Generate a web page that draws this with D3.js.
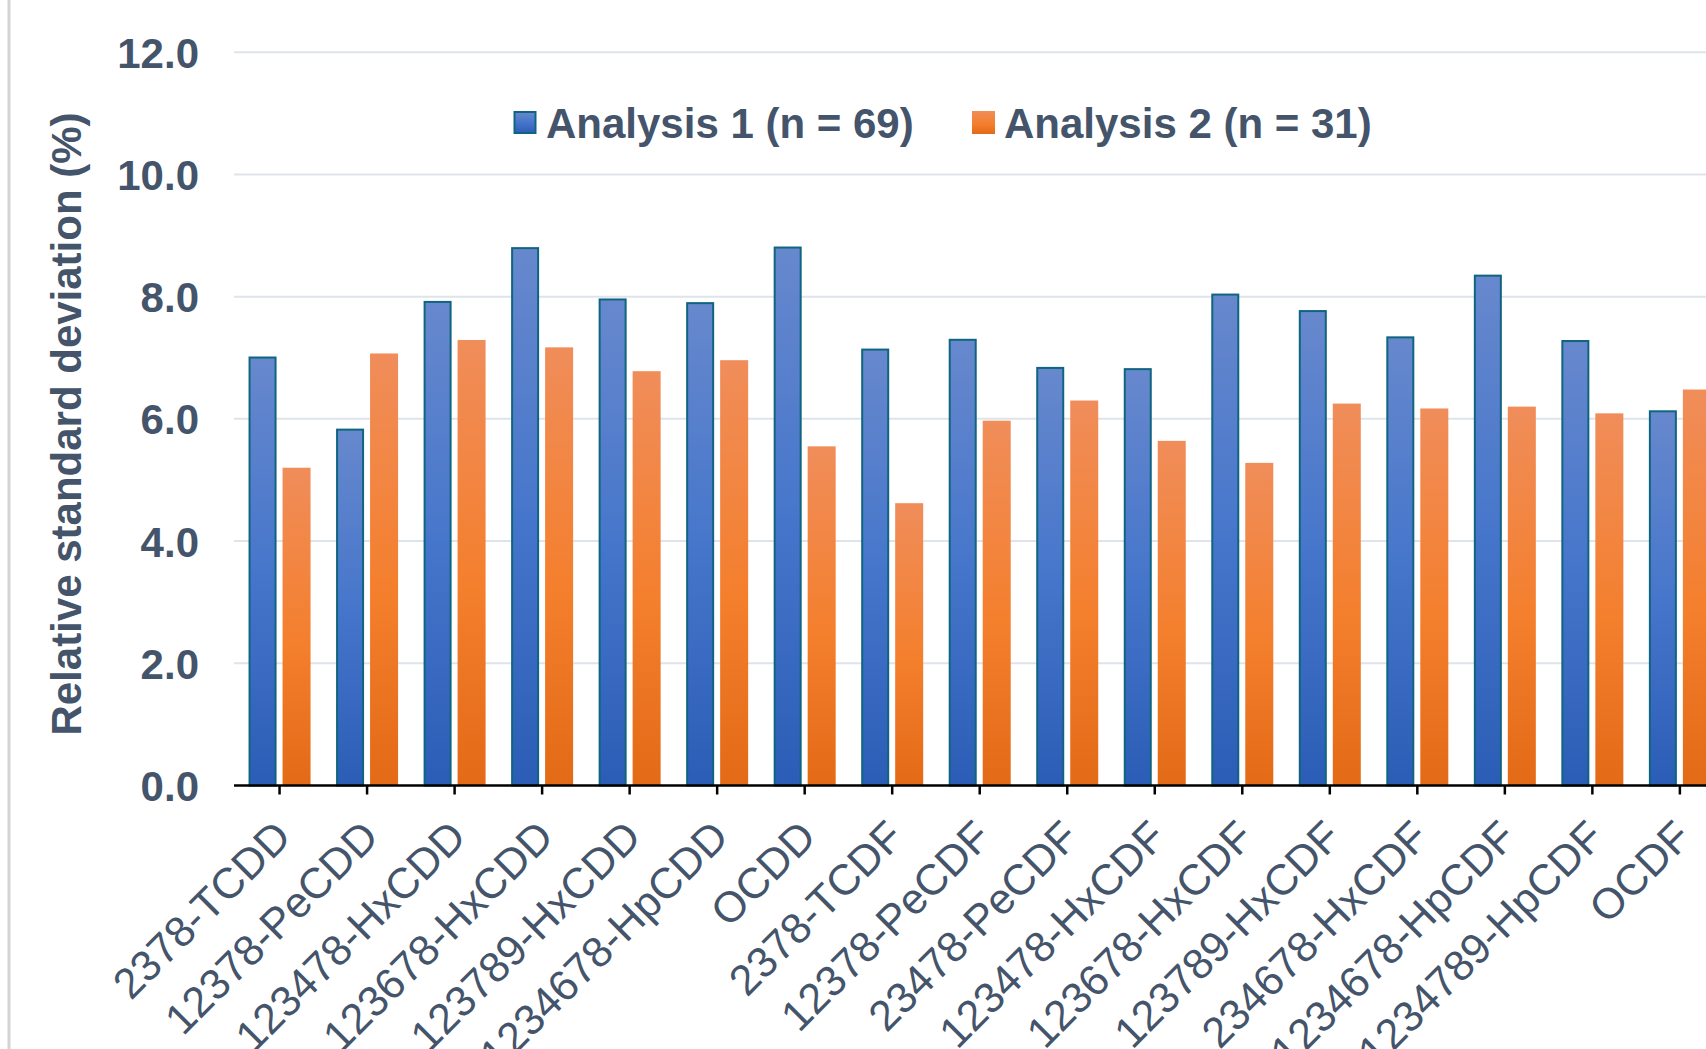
<!DOCTYPE html>
<html>
<head>
<meta charset="utf-8">
<script src="https://cdn.jsdelivr.net/npm/d3@7"></script>
<style>
  html, body { margin: 0; padding: 0; background: #ffffff; }
  svg { display: block; overflow: hidden; }
  text { font-family: Arial, "Liberation Sans", sans-serif; fill: #44546A; }
</style>
</head>
<body>
<div id="chart"></div>
<script>
// Congeners on the category axis
const categories = [
  "2378-TCDD", "12378-PeCDD", "123478-HxCDD", "123678-HxCDD", "123789-HxCDD",
  "1234678-HpCDD", "OCDD", "2378-TCDF", "12378-PeCDF", "23478-PeCDF",
  "123478-HxCDF", "123678-HxCDF", "123789-HxCDF", "234678-HxCDF",
  "1234678-HpCDF", "1234789-HpCDF", "OCDF"
];

// Relative standard deviation (%) per congener
const analysis1 = [7.02, 5.84, 7.93, 8.81, 7.97, 7.91, 8.82, 7.15, 7.31, 6.85, 6.83, 8.05, 7.78, 7.35, 8.36, 7.29, 6.14];
const analysis2 = [5.20, 7.07, 7.29, 7.17, 6.78, 6.96, 5.55, 4.62, 5.97, 6.30, 5.64, 5.28, 6.25, 6.17, 6.20, 6.09, 6.48];

const seriesNames = ["Analysis 1 (n = 69)", "Analysis 2 (n = 31)"];
const yTicks = [0, 2, 4, 6, 8, 10, 12];
const yTitle = "Relative standard deviation (%)";

const W = 1706, H = 1049;
const svg = d3.select("#chart").append("svg")
  .attr("width", W).attr("height", H);

// vertical gradients for the two series
const defs = svg.append("defs");
const grads = [
  { id: "gBlue", stops: [["0%", "#6788CD"], ["50%", "#4676CB"], ["100%", "#2C5DB6"]] },
  { id: "gOrange", stops: [["0%", "#F08D5A"], ["55%", "#F47F2D"], ["100%", "#E36A17"]] }
];
grads.forEach(g => {
  const lg = defs.append("linearGradient").attr("id", g.id)
    .attr("x1", 0).attr("y1", 0).attr("x2", 0).attr("y2", 1);
  g.stops.forEach(s => lg.append("stop").attr("offset", s[0]).attr("stop-color", s[1]));
});
const fills = ["url(#gBlue)", "url(#gOrange)"];
const strokes = ["#0F6480", "none"];

// chart frame line on the left
svg.append("line")
  .attr("x1", 9).attr("x2", 9).attr("y1", 0).attr("y2", H)
  .attr("stroke", "#D4D4D4").attr("stroke-width", 3);

const plotLeft = 235.8, step = 87.52;
const x0 = d3.scaleBand().domain(categories)
  .range([plotLeft, plotLeft + step * categories.length]).padding(0);
const x1 = d3.scaleBand().domain([0, 1])
  .range([12.75, 74.75]).paddingInner(0.176);
const y = d3.scaleLinear().domain([0, 12]).range([785.5, 52.2]);

// gridlines
svg.append("g").selectAll("line").data(yTicks.filter(t => t > 0)).join("line")
  .attr("x1", 234).attr("x2", W)
  .attr("y1", d => y(d)).attr("y2", d => y(d))
  .attr("stroke", "#DFE3EA").attr("stroke-width", 2);

// y axis tick labels
const yAxis = d3.axisLeft(y).tickValues(yTicks).tickFormat(d3.format(".1f")).tickSize(0).tickPadding(0);
const gy = svg.append("g").attr("transform", "translate(199,0)").call(yAxis);
gy.select(".domain").remove();
gy.selectAll("text")
  .attr("x", 0).attr("dy", "0.36em")
  .style("font-size", "42px").style("font-weight", "bold")
  .attr("fill", "#44546A");

// y axis title
svg.append("text")
  .attr("transform", "translate(81,424) rotate(-90)")
  .attr("text-anchor", "middle")
  .style("font-size", "42px").style("font-weight", "bold")
  .text(yTitle);

// bars
const data = categories.map((c, i) => ({ cat: c, vals: [analysis1[i], analysis2[i]] }));
const groups = svg.append("g").selectAll("g").data(data).join("g")
  .attr("transform", d => `translate(${x0(d.cat)},0)`);
groups.selectAll("rect").data(d => d.vals.map((v, k) => ({ v, k }))).join("rect")
  .attr("x", d => x1(d.k) + (d.k === 0 ? 1 : 0))
  .attr("width", d => x1.bandwidth() - (d.k === 0 ? 2 : 0))
  .attr("y", d => y(d.v) + (d.k === 0 ? 1 : 0))
  .attr("height", d => y(0) - y(d.v) - (d.k === 0 ? 1 : 0))
  .attr("fill", d => fills[d.k])
  .attr("stroke", d => strokes[d.k])
  .attr("stroke-width", 2);

// category axis
const xAxis = d3.axisBottom(x0).tickSize(9).tickSizeOuter(0).tickFormat("");
const gx = svg.append("g").attr("transform", `translate(0,${y(0)})`).call(xAxis);
gx.select(".domain").attr("stroke", "#000").attr("stroke-width", 2.5)
  .attr("d", `M234,0H${W}`);
gx.selectAll(".tick line").attr("stroke", "#000").attr("stroke-width", 2.5);

// rotated category labels
svg.append("g").selectAll("text").data(categories).join("text")
  .attr("transform", d => `translate(${x0(d) + x0.bandwidth() / 2 + 3},${y(0) + 43}) rotate(-45)`)
  .attr("text-anchor", "end")
  .attr("dominant-baseline", "central")
  .style("font-size", "43px")
  .text(d => d);

// legend
const legend = svg.append("g");
const legendItems = [
  { x: 513.5, tx: 546 },
  { x: 972, tx: 1004 }
];
seriesNames.forEach((name, k) => {
  const it = legendItems[k];
  legend.append("rect")
    .attr("x", it.x + (k === 0 ? 1 : 0)).attr("y", 111 + (k === 0 ? 1 : 0))
    .attr("width", 23 - (k === 0 ? 2 : 0)).attr("height", 23 - (k === 0 ? 2 : 0))
    .attr("fill", fills[k]).attr("stroke", strokes[k]).attr("stroke-width", 2);
  legend.append("text")
    .attr("x", it.tx).attr("y", 123).attr("dy", "0.36em")
    .style("font-size", "42px").style("font-weight", "bold")
    .text(name);
});
</script>
</body>
</html>
